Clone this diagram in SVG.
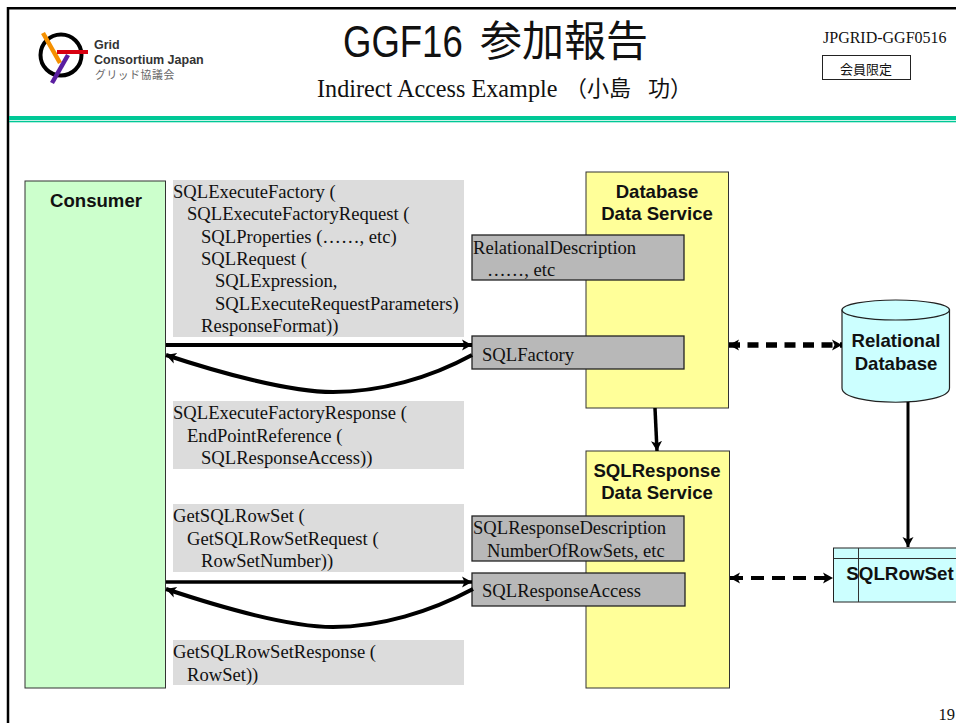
<svg xmlns="http://www.w3.org/2000/svg" width="956" height="723" viewBox="0 0 956 723">
<style>
.s{font-family:"Liberation Serif","Noto Sans CJK JP",serif;font-size:18.600px;fill:#111}
.b{font-family:"Liberation Sans","Noto Sans CJK JP",sans-serif;font-size:18.600px;font-weight:bold;fill:#111;text-anchor:middle}
.g{fill:#dcdcdc}
.r{fill:#b8b8b8;stroke:#222;stroke-width:1.300}
.l{fill:none;stroke:#000}
</style>
<defs>
<marker id="a" markerUnits="userSpaceOnUse" markerWidth="14" markerHeight="14" refX="10" refY="7" orient="auto-start-reverse"><path d="M0 1.500L10 7L0 12.500L2.500 7Z" fill="#000"/></marker>
</defs>
<rect width="956" height="723" fill="#fff"/>
<g id="frame">
<path d="M956 8.200H8V723" fill="none" stroke="#000" stroke-width="2.500"/>
<rect x="9" y="116" width="947" height="4" fill="#00c896"/>
<rect x="9" y="120.800" width="947" height="1.500" fill="#00c896"/>
</g>
<g id="logo">
<circle cx="61" cy="55" r="20.500" fill="none" stroke="#000" stroke-width="4"/>
<path d="M43 33L60 63" stroke="#f59000" stroke-width="4.500" fill="none"/>
<path d="M57 52H88" stroke="#d80010" stroke-width="4" fill="none"/>
<path d="M68 55L52 83" stroke="#5a1ea0" stroke-width="4.500" fill="none"/>
<text x="94" y="49" font-family="Liberation Sans" font-size="12.500" font-weight="bold" fill="#333">Grid</text>
<text x="94" y="63.500" font-family="Liberation Sans" font-size="12.500" font-weight="bold" fill="#333">Consortium Japan</text>
<text x="95" y="79" font-family="Noto Sans CJK JP,sans-serif" font-size="10.800" letter-spacing=".6" fill="#666">グリッド協議会</text>
</g>
<g id="title">
<text transform="translate(343 57) scale(.83 1)" font-family="Liberation Sans,sans-serif" font-size="44" fill="#111">GGF16</text>
<text x="480" y="56" font-family="Noto Sans CJK JP,sans-serif" font-size="42" fill="#111">参加報告</text>
<text x="317" y="97" font-family="Liberation Serif,serif" font-size="24.200" fill="#111">Indirect Access Example</text>
<text x="565" y="96" font-family="Noto Sans CJK JP,sans-serif" font-size="22" fill="#111">（小島</text>
<text x="648" y="96" font-family="Noto Sans CJK JP,sans-serif" font-size="22" fill="#111">功）</text>
<text x="823" y="43" font-family="Liberation Serif" font-size="16" fill="#111">JPGRID-GGF0516</text>
<rect x="822.500" y="55.500" width="88" height="24" fill="#fff" stroke="#222"/>
<text x="866" y="74" font-family="Noto Sans CJK JP,sans-serif" font-size="13" fill="#111" text-anchor="middle">会員限定</text>
<text x="955" y="719.500" font-family="Liberation Serif" font-size="16.500" fill="#111" text-anchor="end">19</text>
</g>
<g id="consumer">
<rect x="25" y="181" width="140.500" height="507" fill="#ccffcc" stroke="#333"/>
<text class="b" x="96" y="207">Consumer</text>
</g>
<g id="database-service">
<rect x="586" y="172" width="142.500" height="236" fill="#ffff99" stroke="#333"/>
<text class="b" x="657" y="197.500">Database</text>
<text class="b" x="657" y="220">Data Service</text>
</g>
<g id="response-service">
<rect x="586" y="451" width="143.500" height="237" fill="#ffff99" stroke="#333"/>
<text class="b" x="657" y="477">SQLResponse</text>
<text class="b" x="657" y="499">Data Service</text>
</g>
<g id="factory-request">
<rect class="g" x="173" y="180" width="291" height="157"/>
<text class="s" x="173" y="198">SQLExecuteFactory (</text>
<text class="s" x="187" y="220">SQLExecuteFactoryRequest (</text>
<text class="s" x="201" y="243">SQLProperties (……, etc)</text>
<text class="s" x="201" y="265">SQLRequest (</text>
<text class="s" x="215" y="287">SQLExpression,</text>
<text class="s" x="215" y="310">SQLExecuteRequestParameters)</text>
<text class="s" x="201" y="332">ResponseFormat))</text>
</g>
<g id="factory-response">
<rect class="g" x="173" y="401" width="291" height="68"/>
<text class="s" x="173" y="419">SQLExecuteFactoryResponse (</text>
<text class="s" x="187" y="442">EndPointReference (</text>
<text class="s" x="201" y="464">SQLResponseAccess))</text>
</g>
<g id="rowset-request">
<rect class="g" x="173" y="504" width="291" height="68"/>
<text class="s" x="173" y="522">GetSQLRowSet (</text>
<text class="s" x="187" y="545">GetSQLRowSetRequest (</text>
<text class="s" x="201" y="567">RowSetNumber))</text>
</g>
<g id="rowset-response">
<rect class="g" x="173" y="640" width="291" height="45"/>
<text class="s" x="173" y="658">GetSQLRowSetResponse (</text>
<text class="s" x="187" y="681">RowSet))</text>
</g>
<g id="relational-description">
<rect class="r" x="472" y="235" width="212" height="45"/>
<text class="s" x="473" y="254">RelationalDescription</text>
<text class="s" x="487" y="276">……, etc</text>
</g>
<g id="sql-factory">
<rect class="r" x="472" y="336" width="212" height="33"/>
<text class="s" x="482" y="361">SQLFactory</text>
</g>
<g id="response-description">
<rect class="r" x="472" y="516" width="212" height="45"/>
<text class="s" x="473" y="534">SQLResponseDescription</text>
<text class="s" x="487" y="557">NumberOfRowSets, etc</text>
</g>
<g id="response-access">
<rect class="r" x="472" y="573" width="213" height="33"/>
<text class="s" x="482" y="597">SQLResponseAccess</text>
</g>
<g id="relational-database">
<path d="M842 310V388C842 407 949.500 407 949.500 388V310Z" fill="#ccffff" stroke="#222" stroke-width="1.200"/>
<ellipse cx="895.750" cy="310" rx="53.750" ry="10" fill="#ccffff" stroke="#222" stroke-width="1.200"/>
<text class="b" x="896" y="347">Relational</text>
<text class="b" x="896" y="369.500">Database</text>
</g>
<g id="sql-rowset">
<rect x="833.500" y="548" width="130" height="54" fill="#ccffff" stroke="#222"/>
<path d="M833.500 558.500H956M858.500 548V602" stroke="#333" fill="none"/>
<text class="b" x="900" y="580" style="font-size:18.800px">SQLRowSet</text>
</g>
<g id="connectors">
<path class="l" stroke-width="4" marker-end="url(#a)" d="M166 345H472"/>
<path class="l" stroke-width="4" marker-end="url(#a)" d="M472 355C430 378 380 392 333 392C290 392 220 373 166 355"/>
<path class="l" stroke-width="3.500" marker-end="url(#a)" d="M166 582H472"/>
<path class="l" stroke-width="4" marker-end="url(#a)" d="M473 589C430 612 380 627 333 627C290 627 220 607 166 589"/>
<path class="l" stroke-width="5.500" stroke-dasharray="11 7.500" marker-start="url(#a)" marker-end="url(#a)" d="M729 345H842"/>
<path class="l" stroke-width="4" stroke-dasharray="13 8" marker-start="url(#a)" marker-end="url(#a)" d="M730 578H833"/>
<path class="l" stroke-width="3.500" marker-end="url(#a)" d="M655 408L657 451"/>
<path class="l" stroke-width="3" marker-end="url(#a)" d="M908 402V547"/>
</g>
</svg>
